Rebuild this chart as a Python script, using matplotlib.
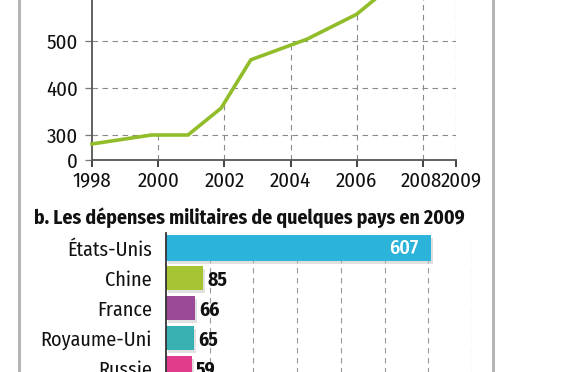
import matplotlib
matplotlib.use("Agg")
import matplotlib.pyplot as plt
import matplotlib.transforms as mtransforms
import numpy as np

plt.rcParams['font.family'] = ['Fira Sans Condensed', 'DejaVu Sans']

# ---- data: top line chart ----
years = [1998, 1999.8, 2000.9, 2001.9, 2002.8, 2004.5, 2006.0, 2007.0, 2008.0, 2009.0]
spending = [281, 300, 300, 357, 460, 504, 557, 615, 660, 700]
xtick_years = [1998, 2000, 2002, 2004, 2006, 2008, 2009]
ytick_vals = [300, 400, 500]
y_break = 246.8  # where "0" sits on the broken axis

# ---- data: bottom bar chart ----
countries = ['États-Unis', 'Chine', 'France', 'Royaume-Uni', 'Russie']
values = [607, 85, 66, 65, 59]
bar_colors = ['#2bb3d9', '#a6c432', '#9b4a97', '#36b0b0', '#e03b8c']
bar_title = 'b. Les dépenses militaires de quelques pays en 2009'

W, H = 568, 372
fig = plt.figure(figsize=(W / 100, H / 100), dpi=100)

def fx(px):
    return px / W

def fy(py):
    return 1 - py / H

# frame lines
for xp in (19, 493):
    fig.add_artist(plt.Line2D([fx(xp), fx(xp)], [0, 1], color='#b5b5b5', lw=2.2,
                              transform=fig.transFigure))

# ---- top chart ----
top_px = 41 - (700 - 500) * 0.47
ax = fig.add_axes([fx(92), fy(160), fx(456) - fx(92), fy(top_px) - fy(160)])
ax.set_xlim(1998, 2009)
ax.set_ylim(y_break, 700)
grid_kw = dict(color='#8a8a8a', lw=0.8, ls=(0, (5, 4)), zorder=1)
for v in ytick_vals:
    ax.axhline(v, **grid_kw)
for yr in xtick_years[1:]:
    top = np.interp(yr, years, spending)
    ax.vlines(yr, y_break, top, **grid_kw)
ax.plot(years, spending, color='#91bd2a', lw=2.6, solid_joinstyle='miter', zorder=3,
        clip_on=False)
ax.set_xticks(xtick_years)
ax.set_xticklabels([str(y) for y in xtick_years])
ax.set_yticks([y_break] + ytick_vals)
ax.set_yticklabels(['0'] + [str(v) for v in ytick_vals])
for s in ('top', 'right'):
    ax.spines[s].set_visible(False)
for s in ('left', 'bottom'):
    ax.spines[s].set_color('#555555')
    ax.spines[s].set_linewidth(1.3)
ax.tick_params(axis='x', length=5, width=1.2, color='#222222', pad=3, labelsize=15,
               labelcolor='#111111')
ax.tick_params(axis='y', length=5, width=0.9, color='#777777', pad=5, labelsize=15,
               labelcolor='#111111')
# nudge the two crowded last labels apart, as in the reference
xlabels = ax.get_xticklabels()
for lab, dx in ((xlabels[-2], -2), (xlabels[-1], 5)):
    lab.set_transform(lab.get_transform() +
                      mtransforms.ScaledTranslation(dx / 100, 0, fig.dpi_scale_trans))

# ---- bar chart ----
bx = fig.add_axes([fx(166), fy(383), fx(472) - fx(166), fy(233) - fy(383)])
ypos = np.arange(len(countries))
bx.set_xlim(0, 700)
bx.set_ylim(len(countries) - 0.5, -0.5)
for g in range(100, 701, 100):
    bx.axvline(g, color='#9a9a9a', lw=0.8, ls=(0, (5, 4)), zorder=0)
shadow_tr = mtransforms.offset_copy(bx.transData, fig=fig, x=2, y=-3, units='dots')
heights = [0.87] + [0.8] * (len(countries) - 1)
bx.barh(ypos, values, height=heights, color='#bdbdbd', alpha=0.45, transform=shadow_tr,
        zorder=1)
bx.barh(ypos, values, height=heights, color=bar_colors, zorder=2)
for i, v in enumerate(values):
    if i == 0:
        bx.annotate(str(v), (v, i), xytext=(-9, 0), textcoords='offset points',
                    ha='right', va='center', color='white', fontsize=14.5,
                    fontweight='medium', zorder=4)
    else:
        bx.annotate(str(v), (v, i), xytext=(3, -1.5), textcoords='offset points',
                    ha='left', va='center', color='#111111', fontsize=14,
                    fontweight='bold', zorder=4)
bx.set_yticks(ypos)
bx.set_yticklabels(countries, fontsize=14.5, color='#111111')
bx.set_xticks([])
for s in ('top', 'right', 'bottom'):
    bx.spines[s].set_visible(False)
bx.spines['left'].set_color('#333333')
bx.spines['left'].set_linewidth(1.3)
bx.tick_params(axis='y', length=0, pad=10)

fig.text(fx(34), fy(218), bar_title, ha='left', va='center', fontsize=14.2,
         fontweight='bold', color='#111111')

fig.savefig('out.png', dpi=100)
